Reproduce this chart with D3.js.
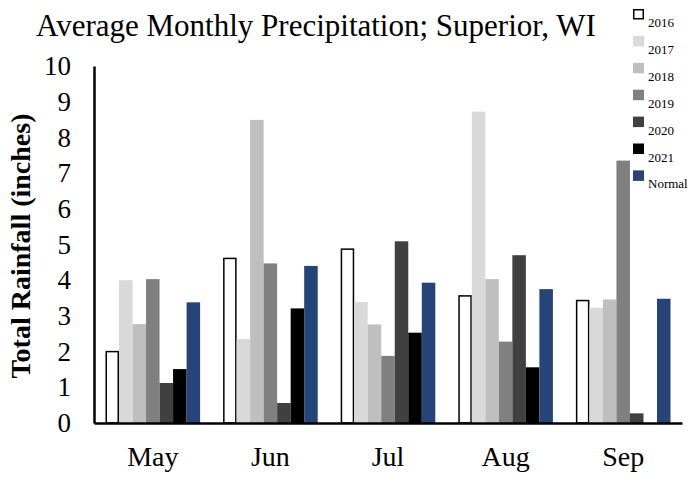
<!DOCTYPE html>
<html>
<head>
<meta charset="utf-8">
<script src="https://cdn.jsdelivr.net/npm/d3@7"></script>
<style>
  html, body { margin: 0; padding: 0; background: #fff; }
  svg { display: block; font-family: "Liberation Serif", "Times New Roman", serif; }
</style>
</head>
<body>
<svg id="chart" width="689" height="477"></svg>
<script>
// Monthly precipitation totals (inches), Superior, WI
const months = ["May", "Jun", "Jul", "Aug", "Sep"];
const seriesNames = ["2016", "2017", "2018", "2019", "2020", "2021", "Normal"];
const v2016   = [2.00, 4.61, 4.87, 3.56, 3.43];
const v2017   = [4.00, 2.35, 3.39, 8.72, 3.23];
const v2018   = [2.77, 8.49, 2.76, 4.03, 3.46];
const v2019   = [4.03, 4.47, 1.88, 2.28, 7.35];
const v2020   = [1.12, 0.56, 5.09, 4.70, 0.27];
const v2021   = [1.51, 3.21, 2.53, 1.56, 0.00];
const vNormal = [3.38, 4.40, 3.93, 3.75, 3.48];
const yTicks  = [0, 1, 2, 3, 4, 5, 6, 7, 8, 9, 10];

const seriesValues = [v2016, v2017, v2018, v2019, v2020, v2021, vNormal];
const fills   = ["#ffffff", "#d9d9d9", "#bfbfbf", "#808080", "#404040", "#000000", "#264478"];
const strokes = ["#000000", null, null, null, null, null, null];

const svg = d3.select("#chart");
const plot = { left: 94, right: 682, top: 66, bottom: 423 };
const serif = "Liberation Serif, Times New Roman, serif";

const x0 = d3.scaleBand().domain(months).range([plot.left, plot.right]).padding(0);
const x1 = d3.scaleBand().domain(seriesNames).range([0, x0.bandwidth()])
  .paddingInner(0).paddingOuter(0.85);
const y = d3.scaleLinear().domain([0, 10]).range([plot.bottom, plot.top]);

// Bars
const rows = [];
months.forEach((m, i) => {
  seriesNames.forEach((s, j) => rows.push({ month: m, series: s, idx: j, value: seriesValues[j][i] }));
});

svg.append("g").selectAll("rect")
  .data(rows.filter(d => d.value > 0))
  .join("rect")
  .attr("x", d => x0(d.month) + x1(d.series) + (strokes[d.idx] ? 0.75 : 0))
  .attr("y", d => y(d.value))
  .attr("width", d => x1.bandwidth() - (strokes[d.idx] ? 1.5 : 0))
  .attr("height", d => y(0) - y(d.value))
  .attr("fill", d => fills[d.idx])
  .attr("stroke", d => strokes[d.idx] || "none")
  .attr("stroke-width", 1.5);

// Axes
const yAxis = d3.axisLeft(y).tickValues(yTicks).tickSize(0).tickPadding(23);
const gy = svg.append("g").attr("transform", `translate(${plot.left},0)`).call(yAxis);
gy.select(".domain").attr("stroke", "#000").attr("stroke-width", 2.5);
gy.selectAll("text").attr("font-size", 27).attr("fill", "#000").attr("font-family", serif);

const xAxis = d3.axisBottom(x0).tickSize(0).tickPadding(23);
const gx = svg.append("g").attr("transform", `translate(0,${plot.bottom})`).call(xAxis);
gx.select(".domain").attr("stroke", "#000").attr("stroke-width", 2.5);
gx.selectAll("text").attr("font-size", 28).attr("fill", "#000").attr("font-family", serif);

// Title
svg.append("text")
  .attr("x", 316).attr("y", 36)
  .attr("text-anchor", "middle")
  .attr("font-size", 31)
  .text("Average Monthly Precipitation; Superior, WI");

// Y axis title
svg.append("text")
  .attr("transform", "translate(30,246) rotate(-90)")
  .attr("text-anchor", "middle")
  .attr("font-size", 28)
  .attr("font-weight", "bold")
  .text("Total Rainfall (inches)");

// Legend
const legend = svg.append("g").attr("transform", "translate(633,9)");
const items = legend.selectAll("g").data(seriesNames).join("g")
  .attr("transform", (d, i) => `translate(0,${i * 26.9})`);
items.append("rect")
  .attr("x", (d, i) => strokes[i] ? 0.75 : 0)
  .attr("y", (d, i) => strokes[i] ? 0.75 : 0)
  .attr("width", (d, i) => strokes[i] ? 9.5 : 11)
  .attr("height", (d, i) => strokes[i] ? 9 : 10.5)
  .attr("fill", (d, i) => fills[i])
  .attr("stroke", (d, i) => strokes[i] || "none")
  .attr("stroke-width", 1.5);
items.append("text")
  .attr("x", 15).attr("y", 18)
  .attr("font-size", 13)
  .text(d => d);
</script>
</body>
</html>
